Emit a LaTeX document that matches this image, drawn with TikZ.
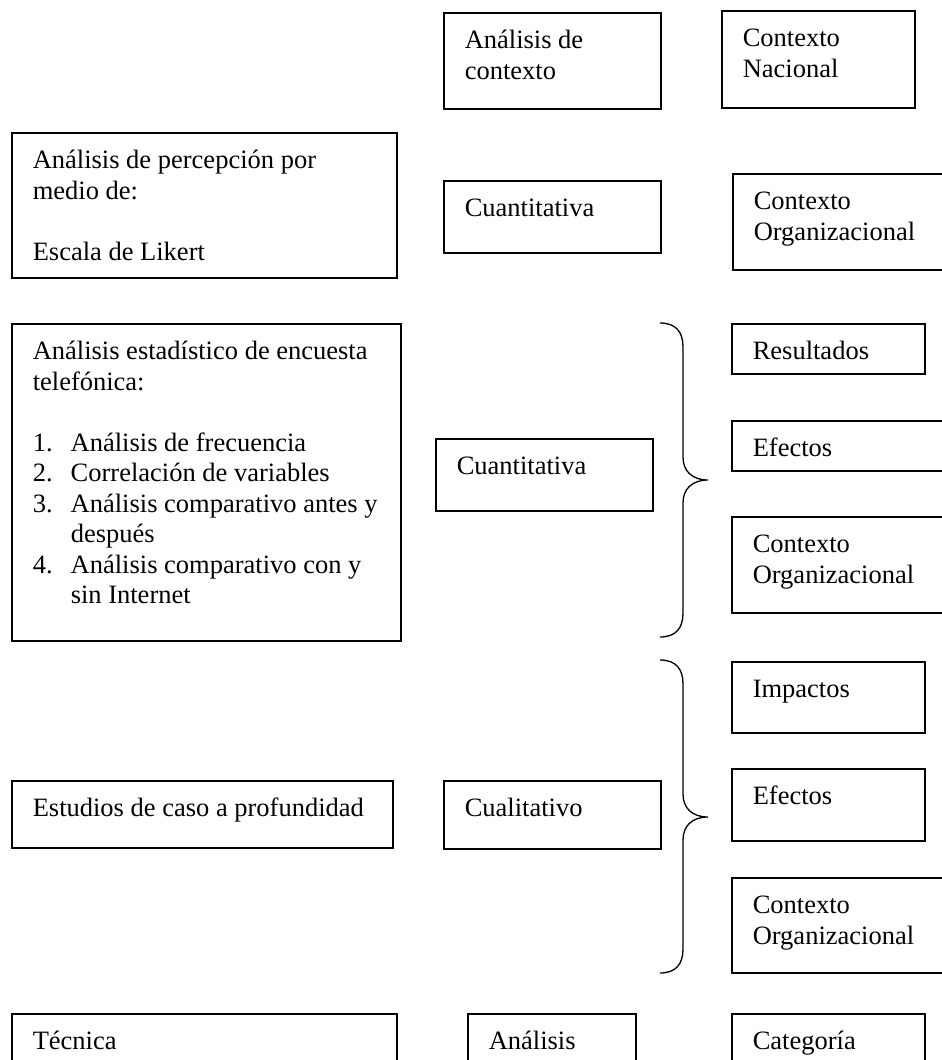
\documentclass[tikz,border=0pt]{standalone}
\usepackage{fontspec}
\setmainfont{Liberation Serif}
\usepackage{tikz}
\tikzstyle{box}=[draw, line width=1.5pt, anchor=north west, inner xsep=21pt, inner ysep=14.5pt, font=\fontsize{26.5}{30.5}\selectfont]
\tikzstyle{brace}=[line width=1.3pt]
\newcommand{\boxtext}[3]{\parbox[t][#2pt][t]{#1pt}{\strut #3}}
\newcommand{\numitem}[1]{\makebox[38pt][l]{#1}}

\begin{document}
\begin{tikzpicture}[x=1pt, y=-1pt]
\useasboundingbox (0,0) rectangle (942,1060);
% the top row
\node[box] (ctx) at (443,12) {\boxtext{175}{67}{Análisis de\\contexto}};
\node[box] (nac) at (721,10) {\boxtext{151}{68}{Contexto\\Nacional}};
% the Likert row
\node[box] (perc) at (11,132) {\boxtext{343}{116}{Análisis de percepción por\\medio de:\\[30.5pt]Escala de Likert}};
\node[box] (cuanA) at (443,180) {\boxtext{175}{43}{Cuantitativa}};
\node[box] (orgA) at (732,173) {\boxtext{198}{67}{Contexto\\Organizacional}};
% the survey row
\node[box] (est) at (11,323) {\boxtext{347}{288}{Análisis estadístico de encuesta\\telefónica:\\[30.5pt]%
\numitem{1.}Análisis de frecuencia\\
\numitem{2.}Correlación de variables\\
\numitem{3.}\mbox{Análisis comparativo antes y}\\
\numitem{}después\\
\numitem{4.}\mbox{Análisis comparativo con y}\\
\numitem{}sin Internet}};
\node[box] (cuanB) at (435,438) {\boxtext{175}{43}{Cuantitativa}};
\node[box] (res) at (731,323) {\boxtext{151}{20}{Resultados}};
\node[box] (efeA) at (731,420) {\boxtext{198}{19}{Efectos}};
\node[box] (orgB) at (731,516) {\boxtext{198}{67}{Contexto\\Organizacional}};
% the case study row
\node[box] (caso) at (11,780) {\boxtext{339}{38}{Estudios de caso a profundidad}};
\node[box] (cual) at (443,780) {\boxtext{175}{39}{Cualitativo}};
\node[box] (imp) at (731,661) {\boxtext{151}{42}{Impactos}};
\node[box] (efeB) at (731,768) {\boxtext{151}{43}{Efectos}};
\node[box] (orgC) at (731,877) {\boxtext{198}{66}{Contexto\\Organizacional}};
% the headings at the bottom
\node[box] (tec) at (11,1013) {\boxtext{343}{51}{Técnica}};
\node[box] (ana) at (467,1013) {\boxtext{126}{51}{Análisis}};
\node[box] (cat) at (731,1013) {\boxtext{151}{51}{Categoría}};
% the braces
\draw[brace] (660,323) .. controls (676,323) and (683,332) .. (683,347) -- (683,457)
  .. controls (683,471) and (692,480) .. (708,480) .. controls (692,480) and (683,489) .. (683,503)
  -- (683,613) .. controls (683,628) and (676,637) .. (660,637);
\draw[brace] (660,660) .. controls (676,660) and (683,669) .. (683,684) -- (683,794)
  .. controls (683,808) and (692,817) .. (708,817) .. controls (692,817) and (683,826) .. (683,840)
  -- (683,949) .. controls (683,964) and (676,973) .. (660,973);
\end{tikzpicture}
\end{document}
